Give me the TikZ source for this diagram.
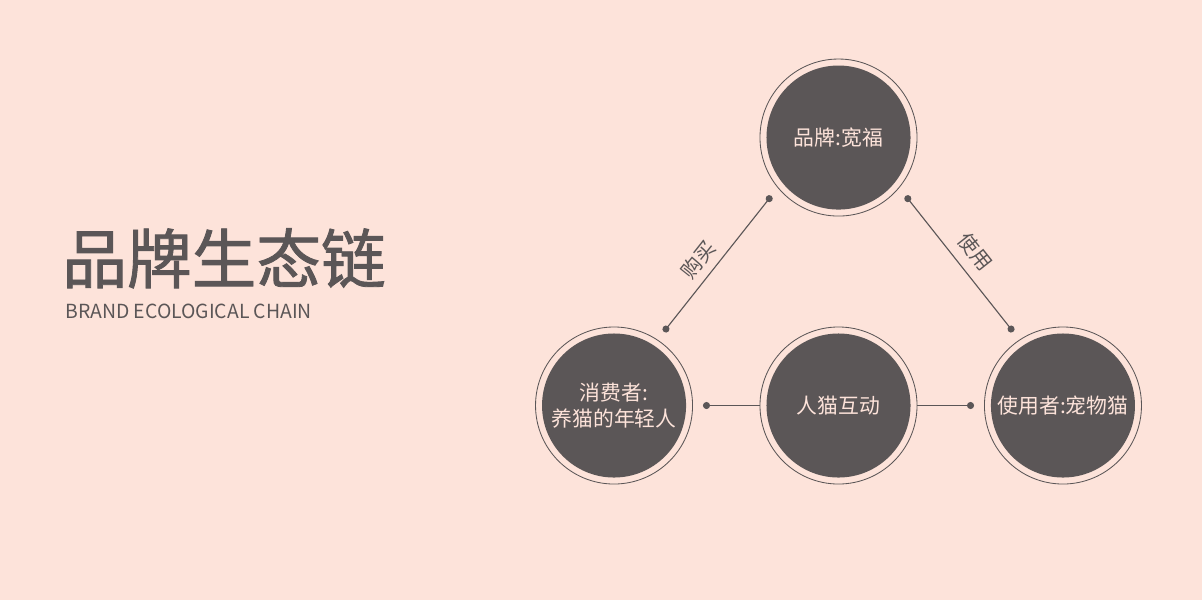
\documentclass[tikz,border=0pt]{standalone}
\usepackage{fontspec}
\setmainfont{Noto Sans CJK SC}
\newfontfamily\headfont[FakeBold=1.3]{Noto Sans CJK SC}
\usetikzlibrary{arrows.meta, positioning}

\definecolor{bgpink}{HTML}{FDE3DA}
\definecolor{cocoa}{HTML}{5B5657}

\begin{document}
\begin{tikzpicture}[
  x=0.025cm, y=0.025cm,
  node distance = 1.425cm,
  ring/.style = {
    circle, draw=cocoa, line width=0.6pt, fill=bgpink,
    minimum size=3.925cm, inner sep=0pt, outer sep=0.26cm,
    text=bgpink, align=center,
    font=\fontsize{14.8}{18.5}\selectfont,
    path picture={\fill[cocoa] (path picture bounding box.center) circle (1.8cm);}
  },
  hub/.style = {
    ring, outer sep=0pt
  },
  link/.style = {
    draw=cocoa, line width=0.8pt
  },
  tag/.style = {
    text=cocoa, font=\fontsize{14.5}{16}\selectfont
  },
  headline/.style = {
    text=cocoa, inner sep=0pt, font=\headfont\fontsize{46}{50}\selectfont
  },
  subline/.style = {
    text=cocoa, inner sep=0pt, font=\fontsize{13.8}{16}\selectfont
  }
]

% ====== BACKGROUND ======
\useasboundingbox (0,0) rectangle (1202,-600);
\fill[bgpink] (0,0) rectangle (1202,-600);

% ====== TITLE (left) ======
\node[headline, anchor=base west] (head) at (62,-283) {品牌生态链};
\node[subline, anchor=base west] (sub) at (65,-318) {BRAND ECOLOGICAL CHAIN};

% ====== CIRCLES ======
\node[hub] (mid) at (838.5,-405.5) {人猫互动};
\node[ring, left=of mid] (buyer) {消费者:\\养猫的年轻人};
\node[ring, right=of mid] (user) {使用者:宠物猫};
\node[ring, above=2.5125cm of mid] (brand) {品牌:宽福};

% ====== LINKS ======
\draw[link, {Circle[length=5pt]}-{Circle[length=5pt]}] (buyer.56) -- (brand.221)
  node[tag, pos=0.45, sloped, above=2pt] {购买};
\draw[link, {Circle[length=5pt]}-{Circle[length=5pt]}] (brand.319) -- (user.124)
  node[tag, midway, sloped, above=4pt] {使用};

\draw[link, {Circle[length=5pt]}-] (buyer.east) -- (mid.west);
\draw[link, -{Circle[length=5pt]}] (mid.east) -- (user.west);

\end{tikzpicture}
\end{document}
